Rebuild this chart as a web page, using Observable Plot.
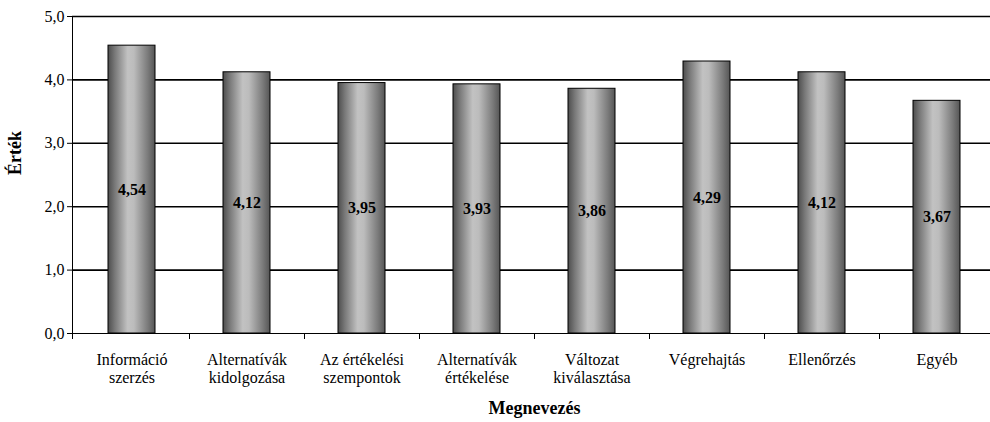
<!DOCTYPE html>
<html>
<head>
<meta charset="utf-8">
<script src="https://cdn.jsdelivr.net/npm/d3@7"></script>
<script src="https://cdn.jsdelivr.net/npm/@observablehq/plot@0.6"></script>
<style>
  body { margin: 0; background: #fff; }
</style>
</head>
<body>
<div id="chart"></div>
<script>
const categories = [
  "Információ\nszerzés",
  "Alternatívák\nkidolgozása",
  "Az értékelési\nszempontok",
  "Alternatívák\nértékelése",
  "Változat\nkiválasztása",
  "Végrehajtás",
  "Ellenőrzés",
  "Egyéb"
];
const values = [4.54, 4.12, 3.95, 3.93, 3.86, 4.29, 4.12, 3.67];
const yTicks = [0, 1, 2, 3, 4, 5];
const xTitle = "Megnevezés";
const yTitle = "Érték";

const FONT = "Liberation Serif";
const data = categories.map((c, i) => ({cat: c, v: values[i]}));
const loc = d3.formatLocale({decimal: ",", thousands: " ", grouping: [3], currency: ["", ""]});
const f1 = loc.format(".1f");
const f2 = loc.format(".2f");

const defs = () => {
  const g = d3.create("svg:defs");
  const lg = g.append("linearGradient").attr("id", "bargrad").attr("x1", "0").attr("x2", "1").attr("y1", "0").attr("y2", "0");
  [[0, "#4d4d4d"], [0.15, "#7a7a7a"], [0.42, "#c2c2c2"], [0.55, "#bcbcbc"], [0.85, "#7a7a7a"], [1, "#555555"]]
    .forEach(([o, c]) => lg.append("stop").attr("offset", o).attr("stop-color", c));
  return g.node();
};

const axisLines = (index, scales, values, dims) => {
  const g = d3.create("svg:g").attr("stroke", "#000").attr("fill", "none");
  const x = scales.x;
  const y0 = scales.y(0);
  const bw = x.bandwidth ? x.bandwidth() : 0;
  const step = x.step ? x.step() : (x(categories[1]) - x(categories[0]));
  const left = dims.marginLeft;
  g.append("line").attr("x1", left + 0.5).attr("x2", left + 0.5)
    .attr("y1", scales.y(5)).attr("y2", y0 + 0.5).attr("stroke-width", 1);
  const xs = [left];
  categories.forEach(c => xs.push(x(c) + bw / 2 + step / 2));
  xs.forEach(px => {
    g.append("line").attr("x1", Math.round(px) + 0.5).attr("x2", Math.round(px) + 0.5)
      .attr("y1", y0).attr("y2", y0 + 6).attr("stroke-width", 1);
  });
  return g.node();
};

const chart = Plot.plot({
  width: 990,
  height: 422,
  marginLeft: 72,
  marginRight: 0,
  marginTop: 16,
  marginBottom: 89,
  style: "font-family: 'Liberation Serif', serif; background: #fff; color: #000;",
  x: {domain: categories, range: [72, 997], paddingInner: 0.59, paddingOuter: 0.295},
  y: {domain: [0, 5]},
  marks: [
    defs,
    Plot.ruleY(yTicks.filter(t => t > 0), {stroke: "#000", strokeWidth: 1.6}),
    Plot.ruleY([0], {stroke: "#000", strokeWidth: 1.2}),
    Plot.barY(data, {x: "cat", y: "v", fill: "url(#bargrad)", stroke: "#000", strokeWidth: 1}),
    Plot.text(data, {x: "cat", y: d => d.v / 2, text: d => f2(d.v), fontWeight: "bold", fontSize: 16, fontFamily: FONT, fill: "#000"}),
    Plot.axisY({ticks: yTicks, tickFormat: f1, tickSize: 5, tickPadding: 3, fontSize: 16, fontFamily: FONT, label: null, stroke: "#000", color: "#000"}),
    Plot.axisX({tickSize: 0, tickPadding: 18, fontSize: 16, fontFamily: FONT, label: null, lineHeight: 1.15, color: "#000"}),
    axisLines,
    Plot.text([xTitle], {frameAnchor: "bottom", dx: 3, dy: 80, fontWeight: "bold", fontSize: 18, fontFamily: FONT, fill: "#000"}),
    Plot.text([yTitle], {frameAnchor: "left", dx: -57, dy: 0, rotate: -90, fontWeight: "bold", fontSize: 18, fontFamily: FONT, fill: "#000"})
  ]
});
d3.select(chart).selectAll("text, tspan").style("font-family", "'Liberation Serif', serif");
document.getElementById("chart").appendChild(chart);
</script>
</body>
</html>
